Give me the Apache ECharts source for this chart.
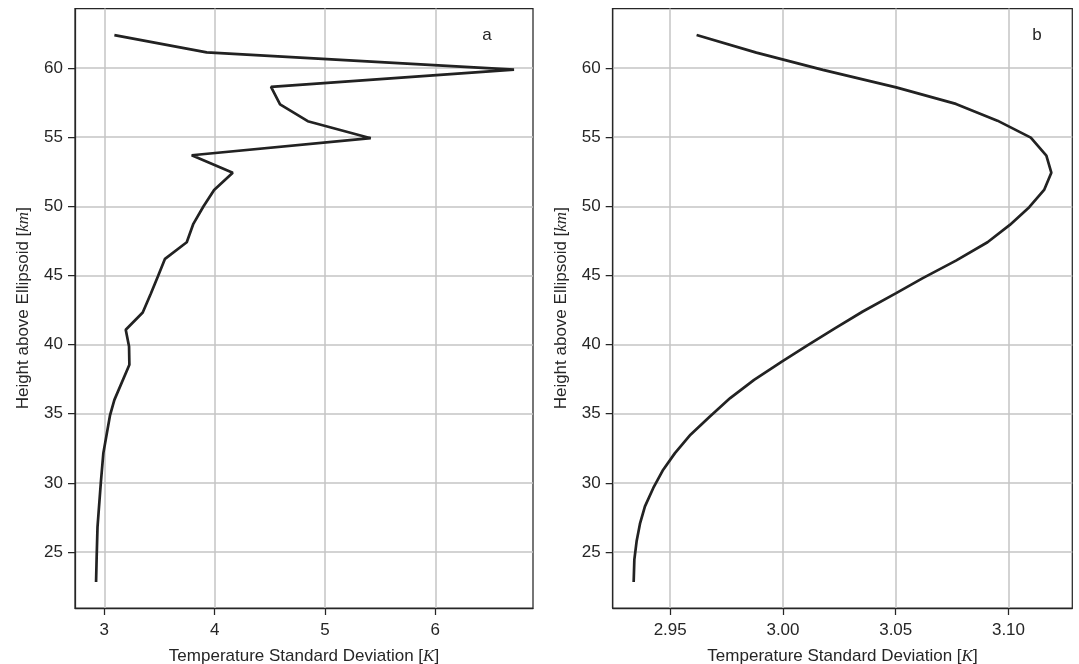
<!DOCTYPE html>
<html>
<head>
<meta charset="utf-8">
<script src="https://cdn.jsdelivr.net/npm/echarts@6/dist/echarts.min.js"></script>
<style>
html,body{margin:0;padding:0;background:#fff;}
#chart{width:1079px;height:664px;}
</style>
</head>
<body>
<div id="chart"></div>
<script>
// ---- data ----
const yTicks = [25, 30, 35, 40, 45, 50, 55, 60];
const xTicksA = [3, 4, 5, 6];
const xTicksB = [2.95, 3.00, 3.05, 3.10];

const heightA = [62.38, 61.13, 59.88, 58.63, 57.37, 56.15, 54.92, 53.69, 52.43, 51.18, 49.98, 48.73, 47.40, 46.20, 44.95, 43.65, 42.32, 41.07, 39.86, 38.54, 36.0, 34.9, 32.15, 30.0, 28.3, 26.8, 24.5, 22.83];
const stdA = [3.091, 3.928, 6.714, 4.511, 4.593, 4.844, 5.415, 3.792, 4.164, 3.995, 3.898, 3.807, 3.747, 3.55, 3.487, 3.42, 3.348, 3.194, 3.224, 3.227, 3.091, 3.052, 2.991, 2.968, 2.952, 2.938, 2.930, 2.925];

const heightB = [62.38, 61.11, 59.86, 58.6, 57.4, 56.19, 54.96, 53.66, 52.43, 51.18, 49.93, 48.65, 47.40, 46.07, 44.8, 43.72, 42.39, 41.19, 39.98, 38.77, 37.45, 36.13, 34.8, 33.48, 32.15, 30.95, 29.63, 28.3, 27.05, 25.77, 24.45, 22.83];
const stdB = [2.9617, 2.9882, 3.0177, 3.0502, 3.0767, 3.0951, 3.1099, 3.1168, 3.119, 3.1158, 3.1092, 3.1006, 3.0907, 3.0767, 3.062, 3.0502, 3.0354, 3.0232, 3.0112, 2.9995, 2.9872, 2.9766, 2.9676, 2.9590, 2.9521, 2.9469, 2.9425, 2.9388, 2.9366, 2.9351, 2.9341, 2.9338];

const panelLabels = ['a', 'b'];
const xName = 'Temperature Standard Deviation [{i|K}]';
const yName = 'Height above Ellipsoid [{i|km}]';

// ---- chart ----
const FONT = 'Liberation Sans, Arial, sans-serif';
const INK = '#262626';
const GRIDC = '#c4c4c4';
const richI = { i: { fontFamily: 'Liberation Serif, serif', fontStyle: 'italic', fontSize: 17, color: INK } };

function xAxisCfg(idx, min, max, ticks, dec) {
  return {
    type: 'value', gridIndex: idx, min: min, max: max,
    name: xName, nameLocation: 'middle', nameGap: 40,
    nameTextStyle: { fontFamily: FONT, fontSize: 17, color: INK, rich: richI },
    axisLine: { show: true, lineStyle: { color: INK, width: 1.25 } },
    axisTick: { show: true, length: 7, lineStyle: { color: INK, width: 1.25 }, customValues: ticks },
    axisLabel: { fontFamily: FONT, fontSize: 17, color: INK, margin: 14, customValues: ticks,
      formatter: v => dec ? Number(v).toFixed(dec) : String(v) },
    splitLine: { show: true, lineStyle: { color: GRIDC, width: 1.5 } }
  };
}
function yAxisCfg(idx) {
  return {
    type: 'value', gridIndex: idx, min: 20.95, max: 64.3,
    name: yName, nameLocation: 'middle', nameGap: 43, nameRotate: 90,
    nameTextStyle: { fontFamily: FONT, fontSize: 17, color: INK, rich: richI },
    axisLine: { show: true, lineStyle: { color: INK, width: 1.25 } },
    axisTick: { show: true, length: 7, lineStyle: { color: INK, width: 1.25 }, customValues: yTicks },
    axisLabel: { fontFamily: FONT, fontSize: 17, color: INK, margin: 12, customValues: yTicks },
    splitLine: { show: true, lineStyle: { color: GRIDC, width: 1.5 } }
  };
}

const chart = echarts.init(document.getElementById('chart'), null, { renderer: 'canvas' });
chart.setOption({
  backgroundColor: '#ffffff',
  animation: false,
  grid: [
    { left: 75, right: 546, top: 8.5, bottom: 56, show: true, borderColor: INK, borderWidth: 1.25, backgroundColor: 'transparent', containLabel: false, outerBoundsMode: 'none' },
    { left: 612.7, right: 6.7, top: 8.5, bottom: 56, show: true, borderColor: INK, borderWidth: 1.25, backgroundColor: 'transparent', containLabel: false, outerBoundsMode: 'none' }
  ],
  xAxis: [
    xAxisCfg(0, 2.734, 6.886, xTicksA, 0),
    xAxisCfg(1, 2.9245, 3.1283, xTicksB, 2)
  ],
  yAxis: [yAxisCfg(0), yAxisCfg(1)],
  graphic: [
    { type: 'text', x: 487, y: 35, style: { text: panelLabels[0], fontFamily: FONT, fontSize: 17, fill: INK, align: 'center', verticalAlign: 'middle' } },
    { type: 'text', x: 1037, y: 35, style: { text: panelLabels[1], fontFamily: FONT, fontSize: 17, fill: INK, align: 'center', verticalAlign: 'middle' } }
  ],
  series: [
    { type: 'line', xAxisIndex: 0, yAxisIndex: 0, showSymbol: false, symbol: 'none',
      data: stdA.map((v, i) => [v, heightA[i]]), lineStyle: { color: '#222222', width: 2.7 }, z: 5 },
    { type: 'line', xAxisIndex: 1, yAxisIndex: 1, showSymbol: false, symbol: 'none',
      data: stdB.map((v, i) => [v, heightB[i]]), lineStyle: { color: '#222222', width: 2.7 }, z: 5 }
  ]
});
</script>
</body>
</html>
